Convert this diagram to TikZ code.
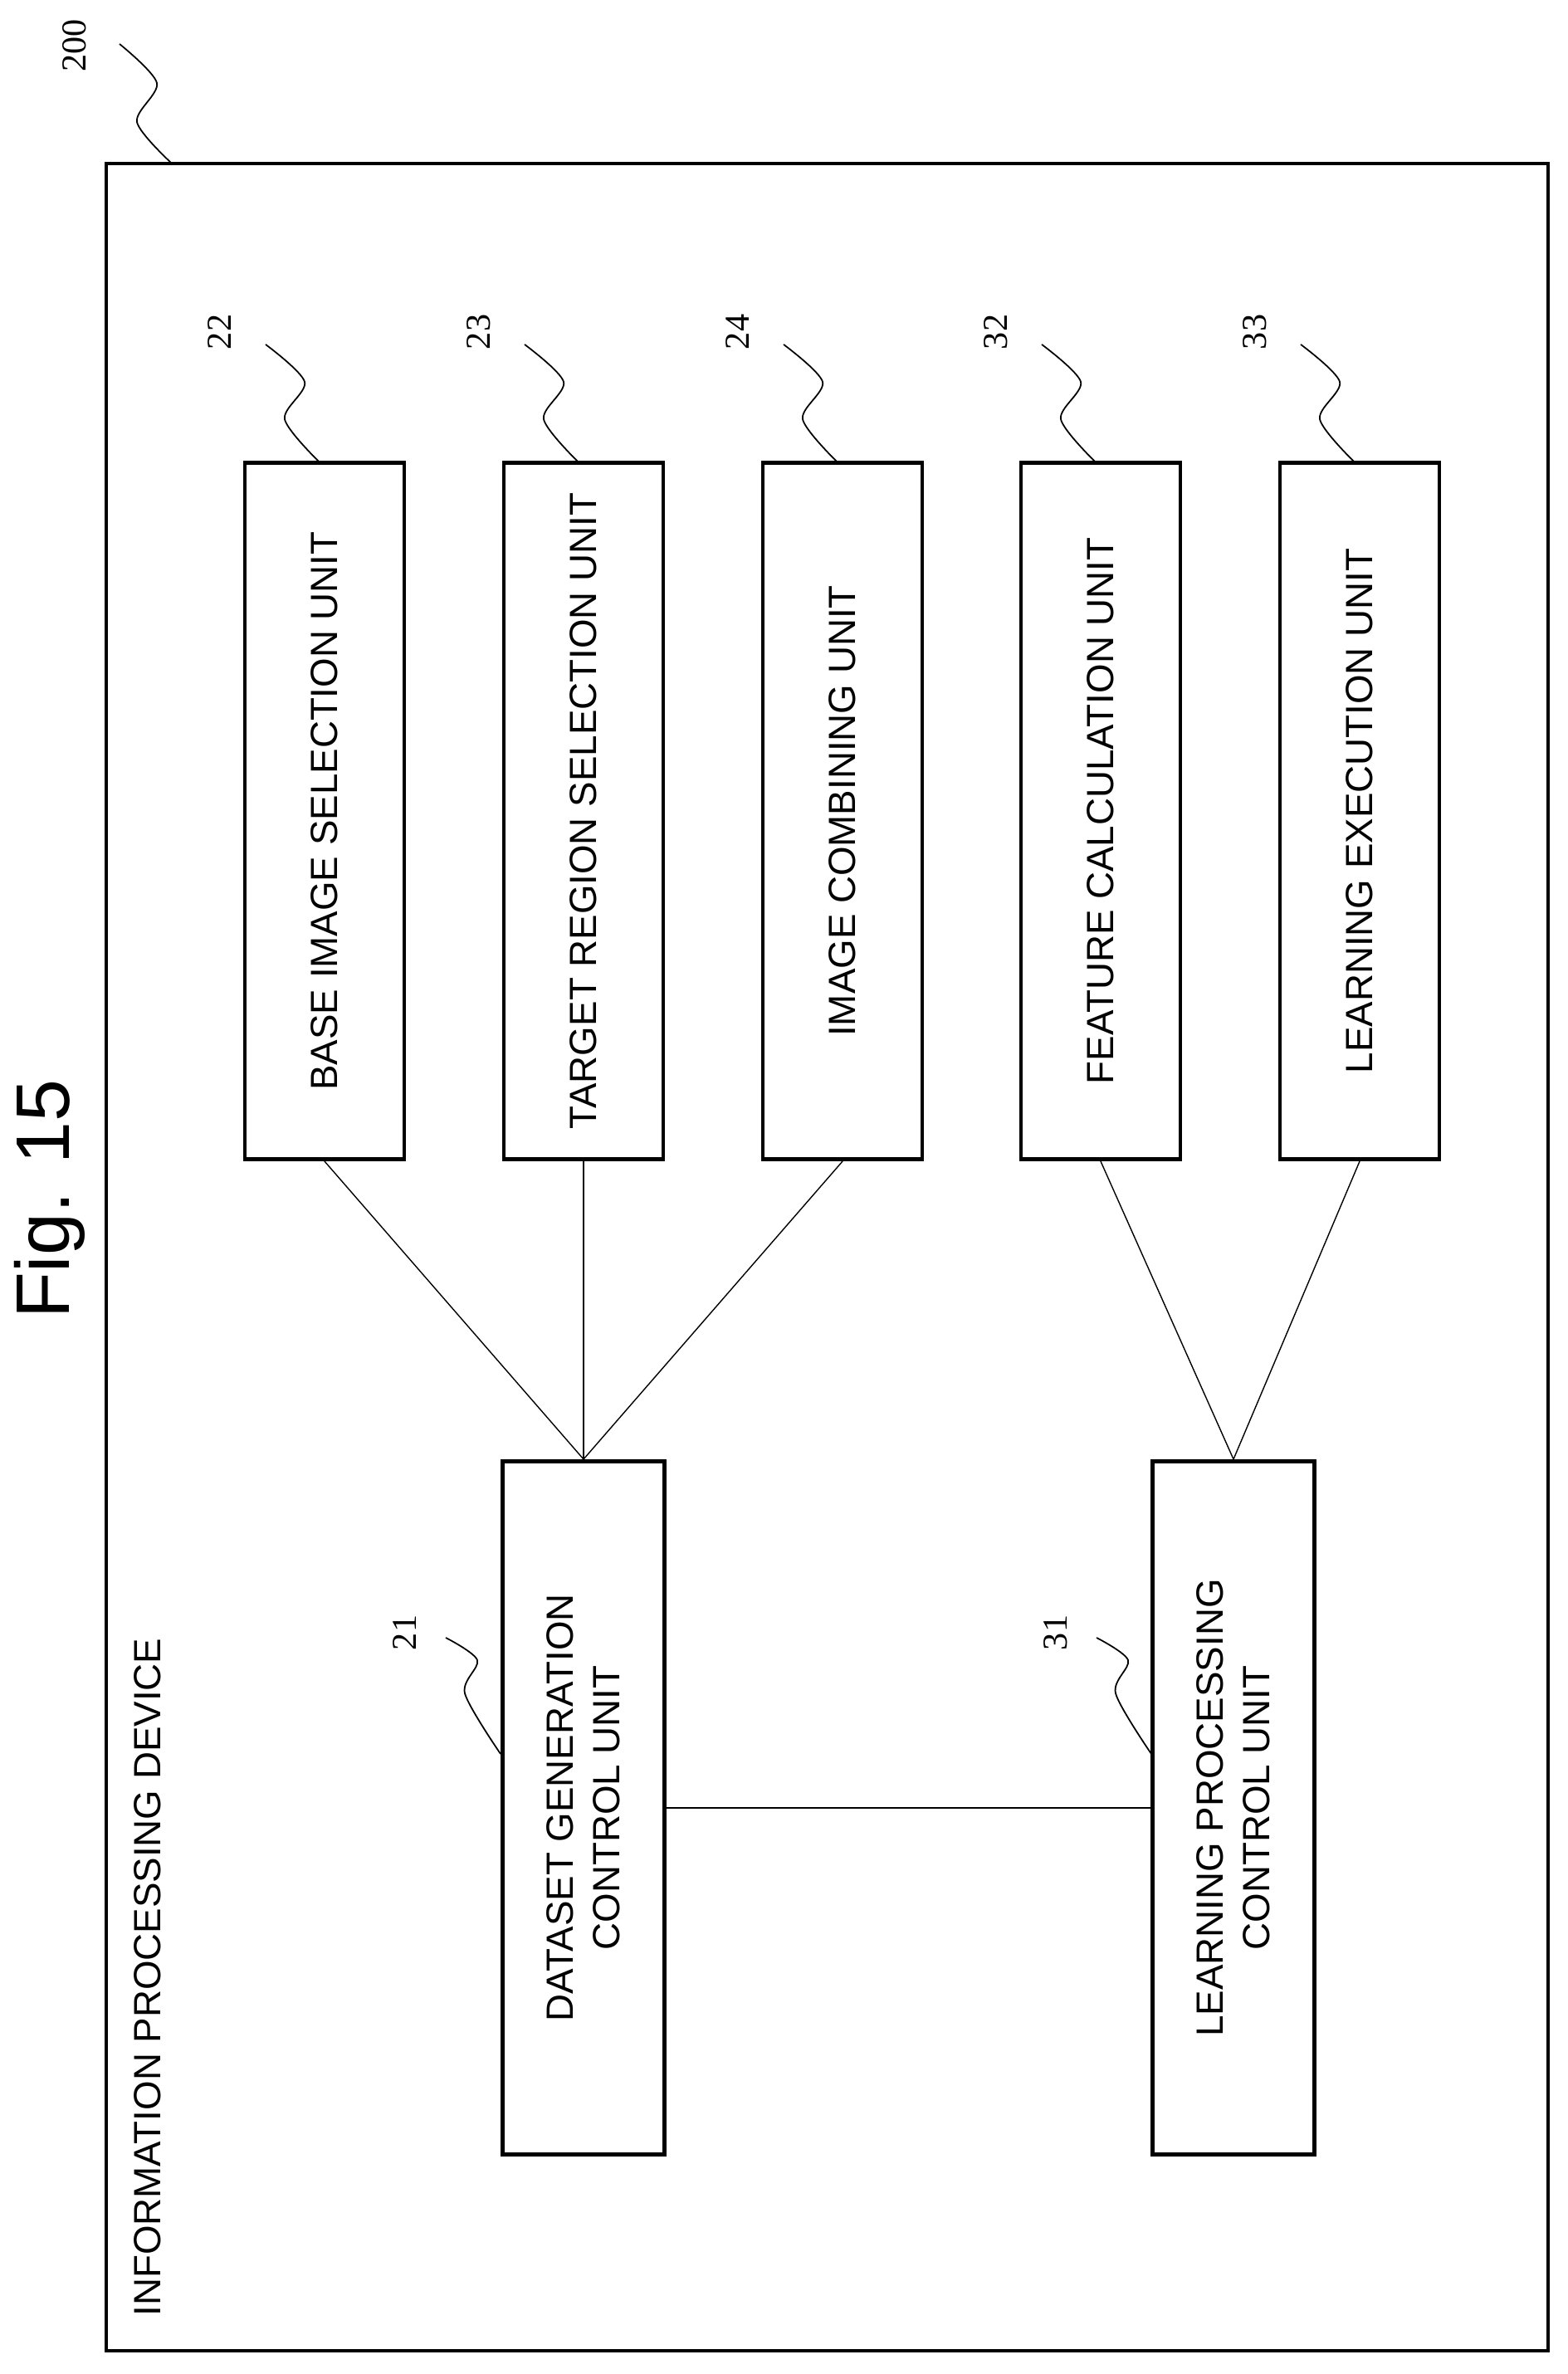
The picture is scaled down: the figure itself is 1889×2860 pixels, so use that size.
\documentclass[tikz,border=0pt]{standalone}
\usepackage{fontspec}
\setmainfont{Liberation Sans}
\newfontfamily\refnum{Liberation Serif}
\tikzset{
  unit/.style={draw,line width=1.3pt,rotate=90,minimum width=8.39cm,minimum height=1.92cm,
    inner sep=0pt,font=\fontsize{13}{16}\selectfont,align=center},
  ctrl/.style={unit,minimum width=8.35cm,minimum height=1.95cm},
  refno/.style={rotate=90,font=\refnum\fontsize{12}{14}\selectfont},
  lead/.style={line width=0.5pt}
}
\begin{document}
\begin{tikzpicture}[x=0.01cm,y=0.01cm]
      \useasboundingbox (0,0) rectangle (1889,2860);
      \draw[line width=1.3pt] (128,28) rectangle (1865,2663);
      \node[rotate=90,font=\fontsize{26}{30}\selectfont] (fig) at (60,1415) {Fig. 15};
      \node[rotate=90,anchor=west,font=\fontsize{13}{16}\selectfont] (dev) at (178,57) {INFORMATION PROCESSING DEVICE};

      % upper units
      \node[unit] (bis) at (391,1883) {BASE IMAGE SELECTION UNIT};
      \node[unit] (trs) at (703,1883) {TARGET REGION SELECTION UNIT};
      \node[unit] (icu) at (1015,1883) {IMAGE COMBINING UNIT};
      \node[unit] (fcu) at (1326,1883) {FEATURE CALCULATION UNIT};
      \node[unit] (leu) at (1638,1883) {LEARNING EXECUTION UNIT};

      % control units
      \node[ctrl] (dgc) at (703,682) {DATASET GENERATION\\CONTROL UNIT};
      \node[ctrl] (lpc) at (1486,682) {LEARNING PROCESSING\\CONTROL UNIT};

      \draw (bis.west) -- (dgc.east);
      \draw (trs.west) -- (dgc.east);
      \draw (icu.west) -- (dgc.east);
      \draw (fcu.west) -- (lpc.east);
      \draw (leu.west) -- (lpc.east);
      \draw (dgc.south) -- (lpc.north);

      % reference numerals
      \foreach \cx/\num in {391/22,703/23,1015/24,1326/32,1638/33}{
        \node[refno] at (\cx-126,2460) {\num};
        \draw[lead] plot[smooth] coordinates {(\cx-71,2445) (\cx-24,2400) (\cx-48,2355) (\cx-6,2303)};
      }
      \foreach \bx/\num in {606/21,1390/31}{
        \node[refno] at (\bx-118,893) {\num};
        \draw[lead] plot[smooth] coordinates {(\bx-69,887) (\bx-31,860) (\bx-46,820) (\bx-3,747)};
      }
      \node[refno] (dev200) at (90,2805) {200};
      \draw[lead] plot[smooth] coordinates {(144,2807) (189,2760) (165,2713) (207,2663)};
\end{tikzpicture}
\end{document}
